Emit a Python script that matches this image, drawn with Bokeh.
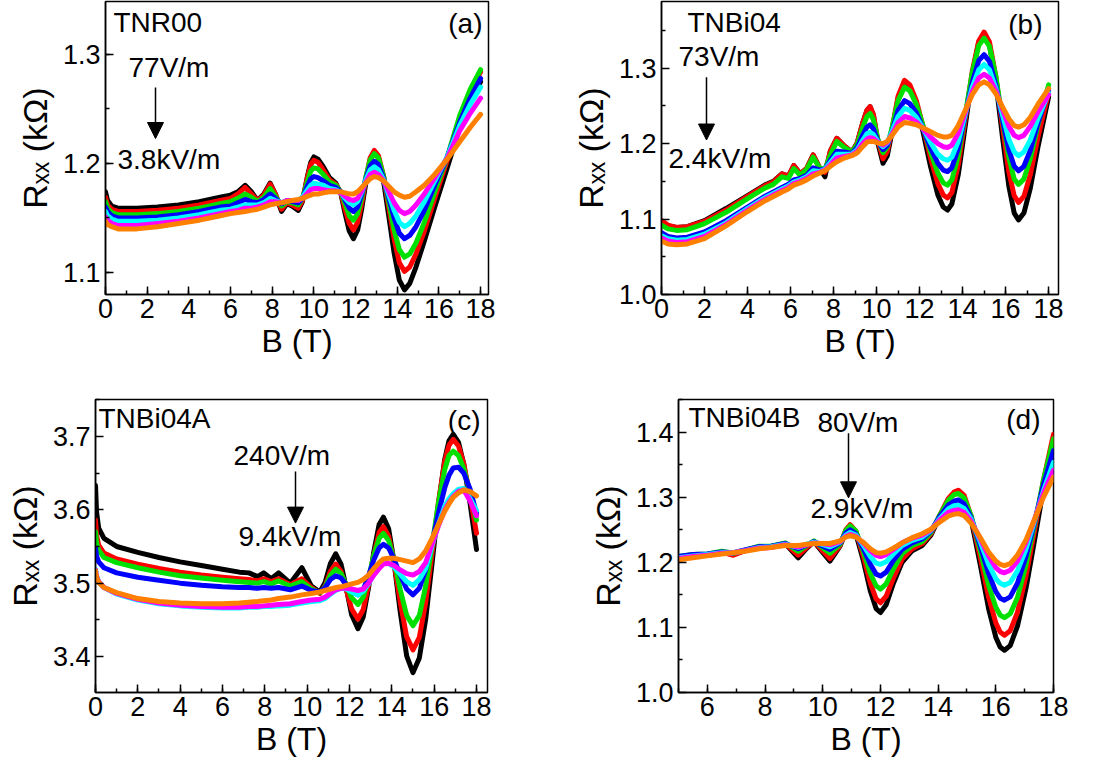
from bokeh.plotting import figure
from bokeh.layouts import column, row
from bokeh.models import FixedTicker, Label, Arrow, NormalHead, Range1d, PrintfTickFormatter
from bokeh.embed import file_html
from bokeh.resources import INLINE

# ---------------- data (B in T, Rxx in kOhm) ----------------
COLORS = ["#000000", "#FF0000", "#00E000", "#0000FF", "#00FFFF", "#FF00FF", "#FF8000"]

# Panel (a) TNR00
B_A = [0, 0.1, 0.3, 0.6, 1.0, 1.5, 2.5, 3.5, 4.5, 5.0, 5.5, 6.0, 6.35, 6.7, 7.0, 7.3, 7.6, 7.9, 8.15, 8.45,
       8.7, 8.95, 9.25, 9.45, 9.7, 9.85, 10.0, 10.2, 10.45, 10.75, 11.05, 11.3, 11.5, 11.7, 11.9, 12.1, 12.3,
       12.5, 12.7, 12.9, 13.1, 13.35, 13.6, 13.85, 14.1, 14.35, 14.6, 14.9, 15.3, 15.8, 16.4, 17.0, 17.5, 18.0]
A_BLACK = [1.174, 1.166, 1.161, 1.159, 1.159, 1.159, 1.160, 1.162, 1.165, 1.167, 1.169, 1.171, 1.174, 1.180,
           1.174, 1.166, 1.172, 1.182, 1.172, 1.156, 1.163, 1.161, 1.157,
           1.165, 1.189, 1.201, 1.206, 1.204, 1.197, 1.187, 1.182, 1.172, 1.154, 1.138, 1.131, 1.139, 1.159,
           1.183, 1.203, 1.211, 1.205, 1.183, 1.151, 1.118, 1.093, 1.084,
           1.090, 1.105, 1.129, 1.160, 1.196, 1.233, 1.257, 1.275]
A_RED = [1.169, 1.162, 1.158, 1.156, 1.156, 1.156, 1.157, 1.159, 1.162, 1.164, 1.166, 1.168, 1.172, 1.178,
         1.172, 1.166, 1.171, 1.181, 1.172, 1.158, 1.164, 1.162, 1.159,
         1.166, 1.188, 1.199, 1.203, 1.201, 1.194, 1.185, 1.181, 1.173, 1.158, 1.145, 1.139, 1.146, 1.164,
         1.187, 1.205, 1.212, 1.207, 1.188, 1.159, 1.131, 1.109, 1.101,
         1.105, 1.117, 1.138, 1.168, 1.203, 1.240, 1.265, 1.284]
A_GREEN = [1.165, 1.159, 1.155, 1.153, 1.153, 1.153, 1.154, 1.156, 1.159, 1.161, 1.163, 1.165, 1.168, 1.172,
           1.169, 1.165, 1.169, 1.177, 1.170, 1.161, 1.165, 1.164, 1.162,
           1.168, 1.184, 1.193, 1.196, 1.195, 1.190, 1.183, 1.180, 1.174, 1.163, 1.152, 1.148, 1.154, 1.169,
           1.188, 1.203, 1.209, 1.205, 1.188, 1.164, 1.139, 1.121, 1.114,
           1.117, 1.127, 1.146, 1.174, 1.206, 1.244, 1.268, 1.286]
A_BLUE = [1.160, 1.156, 1.152, 1.150, 1.150, 1.150, 1.151, 1.153, 1.156, 1.158, 1.160, 1.161, 1.164, 1.167,
          1.165, 1.164, 1.167, 1.172, 1.168, 1.163, 1.166, 1.165, 1.164,
          1.168, 1.180, 1.186, 1.188, 1.187, 1.184, 1.180, 1.178, 1.174, 1.166, 1.159, 1.156, 1.160, 1.172,
          1.186, 1.198, 1.202, 1.199, 1.186, 1.168, 1.150, 1.136, 1.131,
          1.134, 1.142, 1.157, 1.180, 1.206, 1.238, 1.260, 1.278]
A_CYAN = [1.156, 1.152, 1.149, 1.147, 1.147, 1.147, 1.148, 1.150, 1.153, 1.155, 1.157, 1.158, 1.160, 1.162,
          1.162, 1.162, 1.164, 1.168, 1.166, 1.164, 1.166, 1.166, 1.166,
          1.169, 1.176, 1.180, 1.182, 1.181, 1.180, 1.177, 1.176, 1.173, 1.168, 1.164, 1.162, 1.165, 1.174,
          1.185, 1.194, 1.197, 1.194, 1.185, 1.171, 1.157, 1.146, 1.142,
          1.145, 1.152, 1.165, 1.184, 1.206, 1.235, 1.254, 1.270]
A_MAGENTA = [1.151, 1.148, 1.145, 1.143, 1.143, 1.143, 1.145, 1.147, 1.150, 1.152, 1.154, 1.156, 1.157, 1.159,
             1.159, 1.160, 1.162, 1.165, 1.165, 1.164, 1.166, 1.166, 1.166,
             1.168, 1.173, 1.176, 1.177, 1.177, 1.176, 1.175, 1.175, 1.173, 1.170, 1.167, 1.166, 1.168, 1.175,
             1.183, 1.190, 1.192, 1.190, 1.184, 1.174, 1.164, 1.157, 1.154,
             1.156, 1.162, 1.172, 1.187, 1.205, 1.230, 1.246, 1.260]
A_ORANGE = [1.147, 1.144, 1.142, 1.140, 1.140, 1.140, 1.142, 1.145, 1.148, 1.150, 1.152, 1.154, 1.155, 1.156,
            1.157, 1.158, 1.160, 1.162, 1.163, 1.164, 1.165, 1.166, 1.167,
            1.168, 1.170, 1.171, 1.172, 1.172, 1.173, 1.174, 1.174, 1.174, 1.173, 1.172, 1.172, 1.174, 1.178,
            1.182, 1.186, 1.188, 1.187, 1.184, 1.179, 1.174, 1.171, 1.169,
            1.170, 1.174, 1.180, 1.190, 1.204, 1.220, 1.233, 1.245]

# Panel (b) TNBi04
B_B = [0, 0.3, 0.7, 1.2, 2.0, 3.0, 4.0, 4.8, 5.2, 5.6, 5.9, 6.15, 6.45, 6.75, 7.05, 7.35, 7.6, 7.85, 8.15, 8.5,
       8.85, 9.1, 9.35, 9.55, 9.7, 9.85, 10.05, 10.3, 10.5, 10.75, 11.0, 11.3, 11.55, 11.85, 12.15, 12.5, 12.85,
       13.1, 13.3, 13.5, 13.8, 14.15, 14.45, 14.75, 15.0, 15.25, 15.55, 15.85, 16.15, 16.4, 16.6, 16.85, 17.15,
       17.5, 18.0]
B_BLACK = [1.097, 1.091, 1.089, 1.090, 1.098, 1.114, 1.131, 1.145, 1.150, 1.160, 1.157, 1.171, 1.160, 1.167,
           1.185, 1.168, 1.156, 1.190, 1.207, 1.197, 1.189,
           1.201, 1.227, 1.244, 1.249, 1.238, 1.202, 1.174, 1.184, 1.220, 1.260, 1.282, 1.276, 1.252, 1.217,
           1.171, 1.132, 1.116, 1.112, 1.120, 1.159, 1.229, 1.291, 1.334, 1.346, 1.331, 1.281, 1.210, 1.144,
           1.108, 1.099, 1.108, 1.141, 1.195, 1.262]
B_RED = [1.098, 1.092, 1.089, 1.090, 1.097, 1.112, 1.130, 1.144, 1.149, 1.160, 1.157, 1.171, 1.160, 1.167,
         1.185, 1.168, 1.162, 1.190, 1.207, 1.197, 1.189,
         1.201, 1.227, 1.244, 1.249, 1.239, 1.206, 1.180, 1.190, 1.224, 1.263, 1.284, 1.278, 1.257, 1.224,
         1.182, 1.147, 1.132, 1.128, 1.135, 1.172, 1.238, 1.296, 1.336, 1.348, 1.335, 1.288, 1.224, 1.163,
         1.131, 1.122, 1.130, 1.159, 1.208, 1.268]
B_GREEN = [1.092, 1.087, 1.085, 1.086, 1.094, 1.109, 1.127, 1.141, 1.146, 1.156, 1.154, 1.167, 1.158, 1.166,
           1.182, 1.168, 1.166, 1.185, 1.203, 1.195, 1.189,
           1.199, 1.221, 1.236, 1.240, 1.232, 1.207, 1.188, 1.196, 1.225, 1.257, 1.275, 1.270, 1.252, 1.225,
           1.190, 1.161, 1.148, 1.145, 1.152, 1.184, 1.243, 1.294, 1.330, 1.340, 1.329, 1.289, 1.233, 1.182,
           1.153, 1.146, 1.153, 1.180, 1.224, 1.278]
B_BLUE = [1.082, 1.077, 1.075, 1.076, 1.083, 1.098, 1.116, 1.130, 1.136, 1.142, 1.146, 1.152, 1.154, 1.158,
          1.168, 1.165, 1.166, 1.178, 1.190, 1.189, 1.187,
          1.195, 1.211, 1.222, 1.225, 1.220, 1.204, 1.192, 1.198, 1.219, 1.244, 1.257, 1.253, 1.241, 1.221,
          1.195, 1.174, 1.165, 1.163, 1.168, 1.194, 1.241, 1.281, 1.310, 1.318, 1.309, 1.277, 1.233, 1.192,
          1.170, 1.164, 1.170, 1.191, 1.227, 1.270]
B_CYAN = [1.078, 1.074, 1.072, 1.073, 1.080, 1.095, 1.114, 1.128, 1.134, 1.140, 1.144, 1.149, 1.152, 1.156,
          1.164, 1.163, 1.166, 1.175, 1.186, 1.186, 1.186,
          1.192, 1.204, 1.213, 1.215, 1.212, 1.203, 1.196, 1.201, 1.218, 1.236, 1.247, 1.244, 1.235, 1.221,
          1.202, 1.186, 1.180, 1.178, 1.182, 1.203, 1.242, 1.275, 1.298, 1.305, 1.298, 1.273, 1.239, 1.206,
          1.189, 1.184, 1.189, 1.205, 1.233, 1.267]
B_MAGENTA = [1.075, 1.071, 1.069, 1.070, 1.077, 1.093, 1.112, 1.126, 1.132, 1.138, 1.142, 1.147, 1.150, 1.154,
             1.160, 1.162, 1.165, 1.172, 1.181, 1.183, 1.185,
             1.190, 1.200, 1.206, 1.208, 1.207, 1.202, 1.198, 1.202, 1.214, 1.228, 1.236, 1.234, 1.229, 1.220,
             1.209, 1.200, 1.196, 1.195, 1.198, 1.214, 1.244, 1.269, 1.287, 1.292, 1.287, 1.270, 1.246, 1.223,
             1.211, 1.208, 1.211, 1.223, 1.242, 1.265]
B_ORANGE = [1.071, 1.067, 1.066, 1.067, 1.074, 1.091, 1.110, 1.124, 1.130, 1.136, 1.140, 1.145, 1.148, 1.152,
            1.157, 1.161, 1.164, 1.170, 1.176, 1.181, 1.184,
            1.188, 1.196, 1.202, 1.203, 1.203, 1.201, 1.200, 1.203, 1.212, 1.222, 1.228, 1.227, 1.225, 1.221,
            1.216, 1.211, 1.209, 1.209, 1.211, 1.224, 1.246, 1.265, 1.278, 1.282, 1.278, 1.266, 1.249, 1.233,
            1.224, 1.222, 1.225, 1.235, 1.252, 1.273]

# Panel (c) TNBi04A
B_C = [0, 0.05, 0.15, 0.4, 1.0, 2.0, 3.0, 4.0, 5.0, 6.0, 6.8, 7.25, 7.65, 7.95, 8.3, 8.65, 9.2, 9.75, 10.2,
       10.6, 10.85, 11.1, 11.35, 11.6, 11.85, 12.1, 12.4, 12.65, 12.9, 13.15, 13.4, 13.6, 13.85, 14.1, 14.4,
       14.7, 15.0, 15.3, 15.6, 15.9, 16.2, 16.5, 16.7, 16.9, 17.15, 17.4, 17.7, 18.0]
C_BLACK = [3.633, 3.597, 3.575, 3.561, 3.550, 3.542, 3.535, 3.529, 3.524, 3.519, 3.515, 3.514, 3.509, 3.514,
           3.506, 3.514, 3.500, 3.521, 3.496,
           3.488, 3.501, 3.527, 3.540, 3.526, 3.493, 3.457, 3.438, 3.454, 3.494, 3.543, 3.580, 3.590, 3.574,
           3.530, 3.460, 3.401, 3.378, 3.398, 3.451, 3.527, 3.606, 3.669, 3.694, 3.703, 3.692, 3.662, 3.608, 3.546]
C_RED = [3.586, 3.565, 3.552, 3.541, 3.533, 3.526, 3.520, 3.515, 3.511, 3.508, 3.506, 3.505, 3.503, 3.506,
         3.502, 3.506, 3.498, 3.506, 3.494,
         3.486, 3.496, 3.516, 3.526, 3.516, 3.491, 3.465, 3.451, 3.464, 3.498, 3.538, 3.569, 3.577, 3.564,
         3.529, 3.474, 3.427, 3.409, 3.426, 3.474, 3.541, 3.610, 3.666, 3.688, 3.696, 3.687, 3.663, 3.618, 3.568]
C_GREEN = [3.570, 3.555, 3.545, 3.535, 3.528, 3.521, 3.515, 3.510, 3.507, 3.504, 3.502, 3.501, 3.500, 3.502,
           3.499, 3.503, 3.496, 3.502, 3.492,
           3.487, 3.495, 3.511, 3.519, 3.513, 3.497, 3.480, 3.471, 3.481, 3.507, 3.538, 3.561, 3.568, 3.558,
           3.532, 3.491, 3.456, 3.442, 3.456, 3.496, 3.551, 3.609, 3.655, 3.674, 3.680, 3.674, 3.656, 3.623, 3.586]
C_BLUE = [3.548, 3.537, 3.529, 3.521, 3.514, 3.508, 3.504, 3.500, 3.497, 3.495, 3.494, 3.494, 3.493, 3.494,
          3.493, 3.494, 3.491, 3.496, 3.490,
          3.488, 3.494, 3.505, 3.510, 3.507, 3.498, 3.489, 3.484, 3.491, 3.510, 3.532, 3.548, 3.553, 3.548,
          3.533, 3.511, 3.492, 3.484, 3.493, 3.518, 3.555, 3.595, 3.630, 3.647, 3.657, 3.658, 3.650, 3.628, 3.595]
C_CYAN = [3.519, 3.510, 3.502, 3.494, 3.485, 3.477, 3.472, 3.469, 3.467, 3.466, 3.466, 3.467, 3.467, 3.468,
          3.468, 3.469, 3.470, 3.473, 3.475,
          3.476, 3.479, 3.485, 3.490, 3.493, 3.492, 3.488, 3.484, 3.489, 3.499, 3.512, 3.522, 3.527, 3.527,
          3.522, 3.512, 3.502, 3.497, 3.505, 3.520, 3.551, 3.580, 3.605, 3.615, 3.622, 3.628, 3.629, 3.615, 3.599]
C_MAGENTA = [3.518, 3.509, 3.502, 3.494, 3.486, 3.478, 3.473, 3.470, 3.468, 3.467, 3.467, 3.468, 3.468, 3.469,
             3.470, 3.471, 3.472, 3.475, 3.477,
             3.478, 3.481, 3.486, 3.491, 3.493, 3.493, 3.492, 3.490, 3.492, 3.500, 3.511, 3.520, 3.526, 3.527,
             3.524, 3.518, 3.513, 3.511, 3.516, 3.528, 3.553, 3.578, 3.600, 3.610, 3.618, 3.625, 3.627, 3.612,
             3.592]
C_ORANGE = [3.517, 3.508, 3.501, 3.494, 3.487, 3.479, 3.475, 3.473, 3.472, 3.472, 3.473, 3.474, 3.475, 3.476,
            3.477, 3.479, 3.481, 3.484, 3.486,
            3.488, 3.490, 3.492, 3.494, 3.495, 3.497, 3.499, 3.501, 3.505, 3.511, 3.520, 3.528, 3.533, 3.534,
            3.534, 3.532, 3.530, 3.528, 3.533, 3.544, 3.561, 3.580, 3.598, 3.608, 3.617, 3.623, 3.627, 3.625,
            3.619]

# Panel (d) TNBi04B
B_D = [5.0, 5.5, 6.0, 6.5, 6.9, 7.3, 7.8, 8.2, 8.7, 9.15, 9.45, 9.7, 9.95, 10.25,
       10.6, 10.8, 10.95, 11.15, 11.4, 11.65, 11.85, 12.0, 12.2, 12.45, 12.75, 13.1, 13.45, 13.75, 14.05,
       14.35, 14.55, 14.7, 14.9, 15.15, 15.45, 15.75, 16.0, 16.15, 16.3, 16.5, 16.75, 17.05, 17.35, 17.65, 18.0]
D_BLACK = [1.208, 1.211, 1.212, 1.216, 1.212, 1.218, 1.224, 1.224, 1.229, 1.207, 1.222, 1.232, 1.218, 1.202,
           1.225, 1.247, 1.255, 1.244, 1.204, 1.156, 1.129, 1.123, 1.135, 1.168, 1.200, 1.218, 1.226, 1.242,
           1.270, 1.296, 1.306, 1.309, 1.300, 1.265, 1.199, 1.129, 1.085, 1.070, 1.065, 1.072, 1.102, 1.161,
           1.236, 1.313, 1.388]
D_RED = [1.208, 1.211, 1.212, 1.216, 1.211, 1.218, 1.224, 1.224, 1.229, 1.211, 1.223, 1.232, 1.220, 1.206,
         1.226, 1.250, 1.258, 1.248, 1.211, 1.168, 1.144, 1.138, 1.148, 1.176, 1.205, 1.221, 1.229, 1.244,
         1.272, 1.298, 1.308, 1.311, 1.303, 1.270, 1.210, 1.147, 1.107, 1.093, 1.088, 1.095, 1.123, 1.180,
         1.251, 1.326, 1.397]
D_GREEN = [1.209, 1.212, 1.213, 1.217, 1.214, 1.219, 1.225, 1.225, 1.230, 1.217, 1.226, 1.233, 1.224, 1.214,
           1.228, 1.249, 1.256, 1.248, 1.218, 1.183, 1.164, 1.159, 1.167, 1.190, 1.213, 1.226, 1.232, 1.246,
           1.272, 1.295, 1.304, 1.306, 1.299, 1.271, 1.220, 1.165, 1.131, 1.119, 1.115, 1.121, 1.146, 1.197,
           1.260, 1.326, 1.390]
D_BLUE = [1.209, 1.212, 1.213, 1.216, 1.215, 1.219, 1.224, 1.225, 1.229, 1.221, 1.227, 1.232, 1.226, 1.220,
          1.230, 1.245, 1.250, 1.244, 1.222, 1.197, 1.182, 1.179, 1.185, 1.203, 1.220, 1.230, 1.236, 1.248,
          1.270, 1.288, 1.294, 1.296, 1.290, 1.268, 1.227, 1.183, 1.155, 1.145, 1.142, 1.147, 1.168, 1.210,
          1.263, 1.319, 1.372]
D_CYAN = [1.207, 1.210, 1.212, 1.215, 1.215, 1.218, 1.223, 1.224, 1.228, 1.223, 1.228, 1.231, 1.228, 1.224,
          1.231, 1.242, 1.246, 1.242, 1.227, 1.209, 1.199, 1.197, 1.201, 1.213, 1.226, 1.234, 1.239, 1.249,
          1.267, 1.282, 1.287, 1.288, 1.283, 1.266, 1.233, 1.197, 1.175, 1.168, 1.165, 1.169, 1.187, 1.221,
          1.265, 1.310, 1.354]
D_MAGENTA = [1.206, 1.209, 1.211, 1.214, 1.215, 1.218, 1.222, 1.223, 1.227, 1.224, 1.227, 1.230, 1.229, 1.227,
             1.232, 1.240, 1.243, 1.240, 1.230, 1.218, 1.211, 1.209, 1.212, 1.220, 1.230, 1.237, 1.242, 1.250,
             1.265, 1.277, 1.280, 1.281, 1.277, 1.263, 1.237, 1.210, 1.192, 1.186, 1.184, 1.188, 1.202, 1.231,
             1.267, 1.306, 1.342]
D_ORANGE = [1.204, 1.207, 1.210, 1.213, 1.215, 1.217, 1.221, 1.223, 1.226, 1.226, 1.228, 1.229, 1.229, 1.229,
            1.233, 1.239, 1.241, 1.239, 1.231, 1.221, 1.215, 1.214, 1.216, 1.222, 1.230, 1.238, 1.244, 1.251,
            1.262, 1.271, 1.274, 1.275, 1.272, 1.260, 1.239, 1.216, 1.202, 1.197, 1.195, 1.198, 1.211, 1.235,
            1.267, 1.300, 1.331]

SAMPLES = ["TNR00", "TNBi04", "TNBi04A", "TNBi04B"]
PANEL_TAGS = ["(a)", "(b)", "(c)", "(d)"]
FIELD_LOW = ["77V/m", "73V/m", "240V/m", "80V/m"]
FIELD_HIGH = ["3.8kV/m", "2.4kV/m", "9.4kV/m", "2.9kV/m"]
X_TICKS_FULL = [0, 2, 4, 6, 8, 10, 12, 14, 16, 18]
X_TICKS_D = [6, 8, 10, 12, 14, 16, 18]
X_LABEL = "B (T)"
Y_LABEL = "R\u2093\u2093 (k\u03a9)"

FONT = "Liberation Sans"
TEXT_DY = 11  # label baseline correction (px)

# ---------------- layout / style ----------------
PANELS = [
    dict(origin=(0, 0), w=550, h=380, L=105, R=62, T=1, B=86, xr=(0, 18.38), yr=(1.0798, 1.3486),
         x=B_A, ys=[A_BLACK, A_RED, A_GREEN, A_BLUE, A_CYAN, A_MAGENTA, A_ORANGE],
         xt=X_TICKS_FULL, xm=list(range(0, 19)), yt=[1.1, 1.2, 1.3], ym=[1.05, 1.1, 1.15, 1.2, 1.25, 1.3, 1.35],
         name=(113, 33), tag=(482, 34), low=(128, 78), high=(117, 170), arrow=(155, 87, 138)),
    dict(origin=(550, 0), w=552, h=380, L=111, R=44, T=1, B=85, xr=(0, 18.46), yr=(1.0, 1.3885),
         x=B_B, ys=[B_BLACK, B_RED, B_GREEN, B_BLUE, B_CYAN, B_MAGENTA, B_ORANGE],
         xt=X_TICKS_FULL, xm=list(range(0, 19)), yt=[1.0, 1.1, 1.2, 1.3], ym=[1.05, 1.15, 1.25, 1.35],
         name=(687, 33), tag=(1042, 35), low=(678, 67), high=(668, 170), arrow=(706, 77, 140)),
    dict(origin=(0, 380), w=550, h=385, L=95, R=63, T=11, B=73, xr=(0, 18.52), yr=(3.3509, 3.7504),
         x=B_C, ys=[C_BLACK, C_RED, C_GREEN, C_BLUE, C_CYAN, C_MAGENTA, C_ORANGE],
         xt=X_TICKS_FULL, xm=list(range(0, 19)), yt=[3.4, 3.5, 3.6, 3.7], ym=[3.35, 3.45, 3.55, 3.65, 3.75],
         name=(98, 422), tag=(480, 424), low=(233, 460), high=(238, 543), arrow=(295, 465, 518)),
    dict(origin=(550, 380), w=552, h=385, L=128, R=49, T=19, B=71, xr=(5, 18), yr=(1.0, 1.4504),
         x=B_D, ys=[D_BLACK, D_RED, D_GREEN, D_BLUE, D_CYAN, D_MAGENTA, D_ORANGE],
         xt=X_TICKS_D, xm=list(range(5, 19)), yt=[1.0, 1.1, 1.2, 1.3, 1.4], ym=[1.05, 1.15, 1.25, 1.35, 1.45],
         name=(688, 428), tag=(1040, 430), low=(817, 433), high=(810, 520), arrow=(848, 433, 498)),
]


def conv(cfg, px, py):
    ox, oy = cfg["origin"]
    lx, ly = px - ox, py - oy
    fw = cfg["w"] - cfg["L"] - cfg["R"]
    fh = cfg["h"] - cfg["T"] - cfg["B"]
    x0, x1 = cfg["xr"]
    y0, y1 = cfg["yr"]
    return (x0 + (lx - cfg["L"]) / fw * (x1 - x0), y1 - (ly - cfg["T"]) / fh * (y1 - y0))


def add_text(p, cfg, text, pos, align="left", size="28px"):
    x, y = conv(cfg, pos[0], pos[1] - TEXT_DY)
    p.add_layout(Label(x=x, y=y, text=text, text_font=FONT, text_font_size=size,
                       text_color="black", text_align=align, text_baseline="alphabetic"))


def make_panel(i, cfg):
    p = figure(width=cfg["w"], height=cfg["h"], x_range=Range1d(*cfg["xr"]), y_range=Range1d(*cfg["yr"]),
               output_backend="svg", toolbar_location=None,
               min_border_left=cfg["L"], min_border_right=cfg["R"], min_border_top=cfg["T"],
               min_border_bottom=cfg["B"])
    p.xgrid.visible = False
    p.ygrid.visible = False
    p.outline_line_color = "black"
    p.outline_line_width = 1.5
    p.background_fill_color = "white"
    p.border_fill_color = "white"

    for ax in (p.xaxis[0], p.yaxis[0]):
        ax.major_tick_in = 8
        ax.major_tick_out = 0
        ax.minor_tick_in = 4
        ax.minor_tick_out = 0
        ax.axis_line_width = 1.5
        ax.major_tick_line_width = 1.5
        ax.minor_tick_line_width = 1.5
        ax.major_label_text_font = FONT
        ax.major_label_text_font_size = "27px"
        ax.major_label_text_color = "black"
        ax.axis_line_color = "black"
        ax.major_tick_line_color = "black"
        ax.minor_tick_line_color = "black"
        ax.axis_label_text_font = FONT
        ax.axis_label_text_font_size = "32px"
        ax.axis_label_text_font_style = "normal"
        ax.axis_label_text_color = "black"

    p.xaxis.ticker = FixedTicker(ticks=cfg["xt"], minor_ticks=cfg["xm"])
    p.yaxis.ticker = FixedTicker(ticks=cfg["yt"], minor_ticks=cfg["ym"])
    p.xaxis.formatter = PrintfTickFormatter(format="%d")
    p.yaxis.formatter = PrintfTickFormatter(format="%.1f")
    p.xaxis.major_label_standoff = 4
    p.yaxis.major_label_standoff = 5
    p.xaxis.axis_label = X_LABEL
    p.xaxis.axis_label_standoff = 2
    p.yaxis.axis_label = Y_LABEL
    p.yaxis.axis_label_text_font_size = "34px"
    p.yaxis.axis_label_standoff = 6

    for color, ys in zip(COLORS, cfg["ys"]):
        p.line(cfg["x"], ys, line_color=color, line_width=5, line_join="round", line_cap="round")

    add_text(p, cfg, SAMPLES[i], cfg["name"], "left")
    add_text(p, cfg, PANEL_TAGS[i], cfg["tag"], "right")
    add_text(p, cfg, FIELD_LOW[i], cfg["low"], "left")
    add_text(p, cfg, FIELD_HIGH[i], cfg["high"], "left")

    ax_, y0_, y1_ = cfg["arrow"]
    xs, ys0 = conv(cfg, ax_, y0_)
    xe, ye = conv(cfg, ax_, y1_)
    p.add_layout(Arrow(x_start=xs, y_start=ys0, x_end=xe, y_end=ye, line_width=1.5, line_color="black",
                       end=NormalHead(size=16, fill_color="black", line_color="black", line_width=1)))
    return p


figs = [make_panel(i, c) for i, c in enumerate(PANELS)]
layout = column(row(figs[0], figs[1]), row(figs[2], figs[3]))

with open("out.html", "w") as f:
    f.write(file_html(layout, INLINE))
